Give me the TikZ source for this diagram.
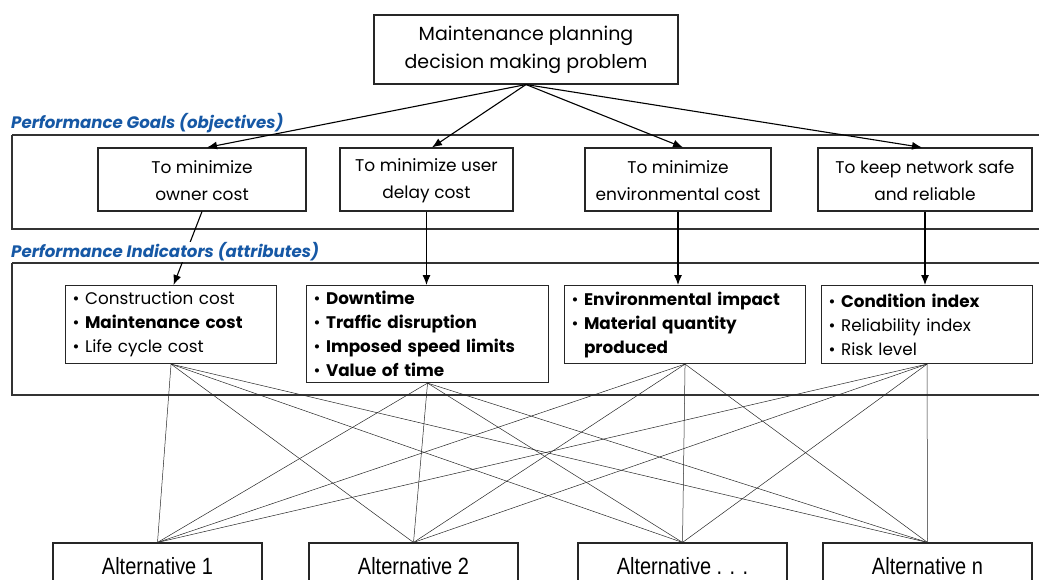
\documentclass[tikz,border=0pt]{standalone}
\usepackage{fontspec}
\setmainfont{Poppins}
\newfontfamily\altfont[FakeStretch=0.85]{Liberation Sans}
\usetikzlibrary{arrows.meta}
\definecolor{labblue}{RGB}{22,88,165}
\tikzset{
  box/.style={draw=black!85, line width=1.1pt, fill=white, inner sep=0pt, align=center},
  goal/.style={box, minimum height=63pt, font=\fontsize{17}{27}\selectfont},
  ind/.style={box, align=left, anchor=north west, font=\fontsize{16.8}{24}\selectfont, inner xsep=7pt, inner ysep=0pt},
  alt/.style={box, minimum height=47pt, font=\altfont\fontsize{23.5}{26}\selectfont},
  band/.style={draw=black!80, line width=1.1pt},
  arr/.style={line width=1.1pt, -{Latex[length=10pt,width=8pt]}},
  link/.style={line width=0.5pt, draw=black!85},
  lab/.style={text=labblue, font=\fontsize{16.6}{18}\selectfont\itshape\bfseries, anchor=west, inner sep=1pt}
}
\begin{document}
\begin{tikzpicture}[x=1pt,y=-1pt]
\useasboundingbox (0,0) rectangle (1039,580);
% bands
\draw[band] (12,135) -- (1045,135) (1045,229) -- (12,229) -- (12,135);
\draw[band] (12,263) -- (1045,263) (1045,395) -- (12,395) -- (12,263);
% top
\node[box, minimum width=304pt, minimum height=69pt, font=\fontsize{19}{28}\selectfont] (top) at (526,49.5) {Maintenance planning\\decision making problem};
% goals
\node[goal, minimum width=208pt] (g1) at (202,179.5) {\rule{0pt}{16pt}To minimize\\owner cost};
\node[goal, minimum width=173pt] (g2) at (426.5,179.5) {\rule{0pt}{16pt}To minimize user\\delay cost};
\node[goal, minimum width=186pt] (g3) at (678,179.5) {\rule{0pt}{16pt}To minimize\\environmental cost};
\node[goal, minimum width=214pt] (g4) at (925,179.5) {\rule{0pt}{16pt}To keep network safe\\and reliable};
% indicators
\node[ind, text width=197pt, minimum height=78pt] (i1) at (65,285) {\rule{0pt}{13pt}• Construction cost\\• \textbf{Maintenance cost}\\• Life cycle cost};
\node[ind, text width=228pt, minimum height=97pt] (i2) at (306,285) {\rule{0pt}{13pt}• \textbf{Downtime}\\• \textbf{Traffic disruption}\\• \textbf{Imposed speed limits}\\• \textbf{Value of time}};
\node[ind, text width=227pt, minimum height=78pt] (i3) at (564,285) {\rule{0pt}{13pt}• \textbf{Environmental impact}\\• \textbf{Material quantity}\\\phantom{• }\textbf{produced}};
\node[ind, text width=197pt, minimum height=78pt] (i4) at (821,285) {\rule{0pt}{13pt}• \textbf{Condition index}\\• Reliability index\\• Risk level};
% alternatives
\node[alt, minimum width=209pt] (a1) at (157.5,566.5) {Alternative 1};
\node[alt, minimum width=209pt] (a2) at (413.5,566.5) {Alternative 2};
\node[alt, minimum width=209pt] (a3) at (682.5,566.5) {Alternative . . .};
\node[alt, minimum width=209pt] (a4) at (927.5,566.5) {Alternative n};
% arrows top -> goals
\draw[arr] (top.south) -- ([xshift=5pt]g1.north);
\draw[arr] (top.south) -- ([xshift=5.5pt]g2.north);
\draw[arr] (top.south) -- ([xshift=5pt]g3.north);
\draw[arr] (top.south) -- ([xshift=-3pt]g4.north);
% goals -> indicators
\draw[arr] (g1.south) -- ([xshift=2.5pt]i1.north);
\draw[arr] (g2.south) -- (g2.south |- i2.north);
\draw[arr] (g3.south) -- (g3.south |- i3.north);
\draw[arr] (g4.south) -- (g4.south |- i4.north);
% labels
\node[lab] (lg) at (10,123) {Performance Goals (objectives)};
\node[lab, fill=white] (li) at (10,252) {Performance Indicators (attributes)};
% links
\foreach \i in {i1,i2,i3,i4}{
  \foreach \a in {a1,a2,a3,a4}{
    \draw[link] (\i.south) -- (\a.north);
  }
}
\end{tikzpicture}
\end{document}
